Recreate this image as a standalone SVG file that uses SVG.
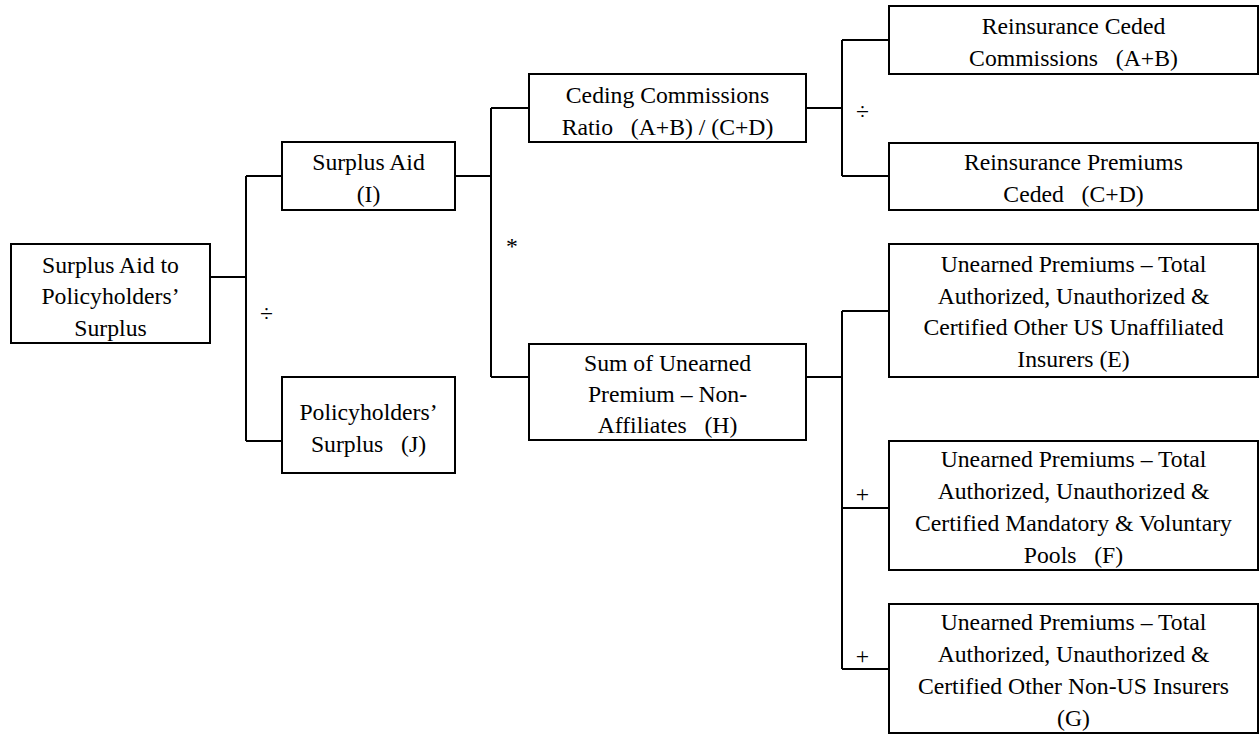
<svg xmlns="http://www.w3.org/2000/svg" width="1259" height="734" viewBox="0 0 1259 734">
<style>
.box{fill:#fff;stroke:#000;stroke-width:2}
.t{font-family:"Liberation Serif","Times New Roman",serif;font-size:23.7px;fill:#000;text-anchor:middle;white-space:pre}
.op{font-family:"Liberation Serif","Times New Roman",serif;font-size:23.7px;fill:#000;text-anchor:middle}
.c{fill:none;stroke:#000;stroke-width:2}
</style>
<rect width="1259" height="734" fill="#fff"/>
<g id="connectors">
<path class="c" d="M210,277H246M246,176V441M246,176H282M246,441H282"/>
<path class="c" d="M455,176H491M491,108V377M491,108H529M491,377H529"/>
<path class="c" d="M806,108H842M842,40V176M842,40H889M842,176H889"/>
<path class="c" d="M806,377H842M842,311V669M842,311H889M842,508H889M842,669H889"/>
<text class="op" x="266.5" y="321">÷</text>
<text class="op" x="512" y="254">*</text>
<text class="op" x="862.5" y="119">÷</text>
<text class="op" x="862.5" y="501.5">+</text>
<text class="op" x="862.5" y="663.5">+</text>
</g>
<g id="node-root">
<rect class="box" x="11" y="244" width="199" height="99"/>
<text class="t" x="110.5" y="272.7">Surplus Aid to</text>
<text class="t" x="110.5" y="304.3">Policyholders’</text>
<text class="t" x="110.5" y="336">Surplus</text>
</g>
<g id="node-I">
<rect class="box" x="282" y="142" width="173" height="68"/>
<text class="t" x="368.5" y="170">Surplus Aid</text>
<text class="t" x="368.5" y="202">(I)</text>
</g>
<g id="node-J">
<rect class="box" x="282" y="377" width="173" height="96"/>
<text class="t" x="368.5" y="420">Policyholders’</text>
<text class="t" x="368.5" y="452">Surplus   (J)</text>
</g>
<g id="node-ratio">
<rect class="box" x="529" y="74" width="277" height="68"/>
<text class="t" x="667.5" y="103">Ceding Commissions</text>
<text class="t" x="667.5" y="135">Ratio   (A+B) / (C+D)</text>
</g>
<g id="node-H">
<rect class="box" x="529" y="344" width="277" height="96"/>
<text class="t" x="667.5" y="371">Sum of Unearned</text>
<text class="t" x="667.5" y="402">Premium – Non-</text>
<text class="t" x="667.5" y="433">Affiliates   (H)</text>
</g>
<g id="node-AB">
<rect class="box" x="889" y="6" width="369" height="68"/>
<text class="t" x="1073.5" y="34">Reinsurance Ceded</text>
<text class="t" x="1073.5" y="66">Commissions   (A+B)</text>
</g>
<g id="node-CD">
<rect class="box" x="889" y="143" width="369" height="67"/>
<text class="t" x="1073.5" y="170">Reinsurance Premiums</text>
<text class="t" x="1073.5" y="202">Ceded   (C+D)</text>
</g>
<g id="node-E">
<rect class="box" x="889" y="244" width="369" height="133"/>
<text class="t" x="1073.5" y="272">Unearned Premiums – Total</text>
<text class="t" x="1073.5" y="303.5">Authorized, Unauthorized &amp;</text>
<text class="t" x="1073.5" y="335">Certified Other US Unaffiliated</text>
<text class="t" x="1073.5" y="367">Insurers (E)</text>
</g>
<g id="node-F">
<rect class="box" x="889" y="441" width="369" height="129"/>
<text class="t" x="1073.5" y="467">Unearned Premiums – Total</text>
<text class="t" x="1073.5" y="499">Authorized, Unauthorized &amp;</text>
<text class="t" x="1073.5" y="531">Certified Mandatory &amp; Voluntary</text>
<text class="t" x="1073.5" y="563">Pools   (F)</text>
</g>
<g id="node-G">
<rect class="box" x="889" y="604" width="369" height="129"/>
<text class="t" x="1073.5" y="630">Unearned Premiums – Total</text>
<text class="t" x="1073.5" y="662">Authorized, Unauthorized &amp;</text>
<text class="t" x="1073.5" y="694">Certified Other Non-US Insurers</text>
<text class="t" x="1073.5" y="726">(G)</text>
</g>
</svg>
